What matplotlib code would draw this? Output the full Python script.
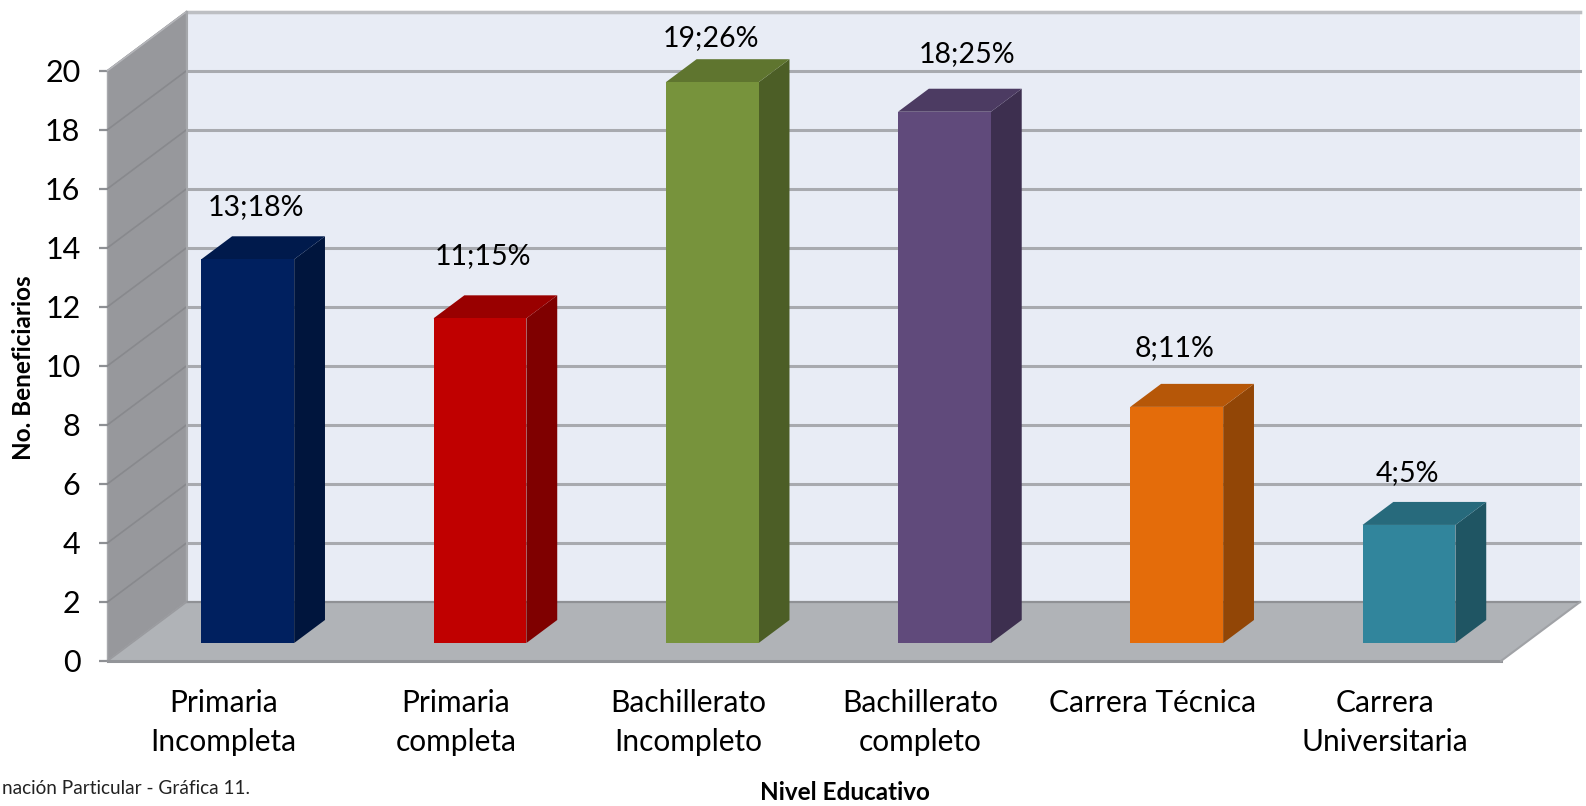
import matplotlib
matplotlib.use("Agg")
import matplotlib.pyplot as plt

categories = ["Primaria\nIncompleta", "Primaria\ncompleta", "Bachillerato\nIncompleto",
              "Bachillerato\ncompleto", "Carrera Técnica", "Carrera\nUniversitaria"]
values = [13, 11, 19, 18, 8, 4]
labels = ["13;18%", "11;15%", "19;26%", "18;25%", "8;11%", "4;5%"]
front_colors = ["#00205F", "#C00000", "#77933C", "#604A7B", "#E46C0A", "#31859C"]
top_colors = ["#001A4C", "#990000", "#5F752F", "#4C3B62", "#B65708", "#276A7C"]
side_colors = ["#00153D", "#7F0000", "#4C5E26", "#3D2F4F", "#924606", "#1F5563"]
yticks = list(range(0, 21, 2))

W, H = 1586, 806
plt.rcParams["font.family"] = ["Lato", "DejaVu Sans"]
fig = plt.figure(figsize=(W / 100, H / 100), dpi=100, facecolor="white")
L, R, T, B = 107.5, 1501, 70.7, 661
ax = fig.add_axes([L / W, 1 - B / H, (R - L) / W, (B - T) / H])
ax.set_xlim(0, 6)
ax.set_ylim(0, 20)
ax.patch.set_visible(False)
for s in ax.spines.values():
    s.set_visible(False)

DX = 79 / ((R - L) / 6)   # depth vector in data units
DY = 59 / ((B - T) / 20)

def P(x, y, z):
    return x + DX * z, y + DY * z

def poly(pts, color, zorder, ec="none", lw=0):
    xs, ys = zip(*pts)
    ax.fill(xs, ys, facecolor=color, edgecolor=ec, linewidth=lw, zorder=zorder, clip_on=False)

# back wall, left wall, floor
poly([P(0, 0, 1), P(6, 0, 1), P(6, 20, 1), P(0, 20, 1)], "#E8ECF5", 1)
poly([P(0, 0, 0), P(0, 0, 1), P(0, 20, 1), P(0, 20, 0)], "#97989C", 1, ec="#A8A9AD", lw=1)
poly([P(0, 0, 0), P(6, 0, 0), P(6, 0, 1), P(0, 0, 1)], "#B0B3B7", 2)

grid = "#A8AAAF"
for t in yticks:
    if t > 0:
        ax.plot(*zip(P(0, t, 1), P(6, t, 1)), color=grid, lw=2.2, zorder=3, clip_on=False)
        ax.plot(*zip(P(0, t, 0), P(0, t, 1)), color="#88898D", lw=1.2, zorder=3, clip_on=False)
# frame lines
ax.plot(*zip(P(0, 20, 1), P(6, 20, 1)), color="#BDBFC3", lw=2.5, zorder=3, clip_on=False)
ax.plot(*zip(P(0, 20, 0), P(0, 20, 1)), color="#B5B6BA", lw=1.2, zorder=3, clip_on=False)
ax.plot(*zip(P(0, 0, 1), P(0, 20, 1)), color="#A5A7AB", lw=1.5, zorder=3, clip_on=False)
ax.plot(*zip(P(0, 0, 1), P(6, 0, 1)), color="#8F9195", lw=1.6, zorder=3, clip_on=False)
ax.plot(*zip(P(0, 0, 0), P(0, 0, 1)), color="#9A9B9F", lw=1.2, zorder=3, clip_on=False)
ax.plot(*zip(P(0, 0, 0), P(6, 0, 0)), color="#939599", lw=2.2, zorder=3, clip_on=False)
ax.plot(*zip(P(6, 0, 0), P(6, 0, 1)), color="#A0A2A6", lw=1.5, zorder=3, clip_on=False)

# 3D bars
BW = 0.40
Z0, Z1 = 0.305, 0.695
centers = [i + 0.5 for i in range(len(values))]
for i, (c, v) in enumerate(zip(centers, values)):
    xl, xr = c - BW / 2, c + BW / 2
    poly([P(xr, 0, Z0), P(xr, 0, Z1), P(xr, v, Z1), P(xr, v, Z0)], side_colors[i], 5)
    poly([P(xl, v, Z0), P(xr, v, Z0), P(xr, v, Z1), P(xl, v, Z1)], top_colors[i], 5)
    fx, fy = P(xl, 0, Z0)
    ax.bar(fx, v, width=BW, bottom=fy, align="edge", color=front_colors[i],
           zorder=6, clip_on=False)

# data labels (px offsets measured from bar top)
offsets = [(8, 52.5), (2.5, 62), (-1, 44.5), (23, 58), (-2, 58.5), (-2, 52)]
for c, v, lab, (ox, oy) in zip(centers, values, labels, offsets):
    x, y = P(c, v, Z0)
    ax.annotate(lab, (x, y), xytext=(ox * 0.72, oy * 0.72), textcoords="offset points",
                ha="center", va="center", fontsize=20.5, color="black",
                zorder=8, annotation_clip=False)

# axes
ax.set_yticks(yticks)
ax.tick_params(axis="y", length=6.5, width=1.6, color="#8E9094", labelsize=22, pad=13)
ax.set_xticks(centers)
ax.set_xticklabels(categories, fontsize=21.5, linespacing=1.47)
ax.tick_params(axis="x", length=0, pad=20.5)

fig.text(24 / W, 1 - 368 / H, "No. Beneficiarios", rotation=90, fontsize=17.5,
         fontweight="bold", ha="center", va="center")
fig.text(845 / W, 1 - 793 / H, "Nivel Educativo", fontsize=17.5, fontweight="bold",
         ha="center", va="center")
fig.text(250 / W, 1 - 789 / H, "nación Particular - Gráfica 11.", fontsize=13.7,
         ha="right", va="center", color="#222222")

fig.savefig("out.png", dpi=100)
